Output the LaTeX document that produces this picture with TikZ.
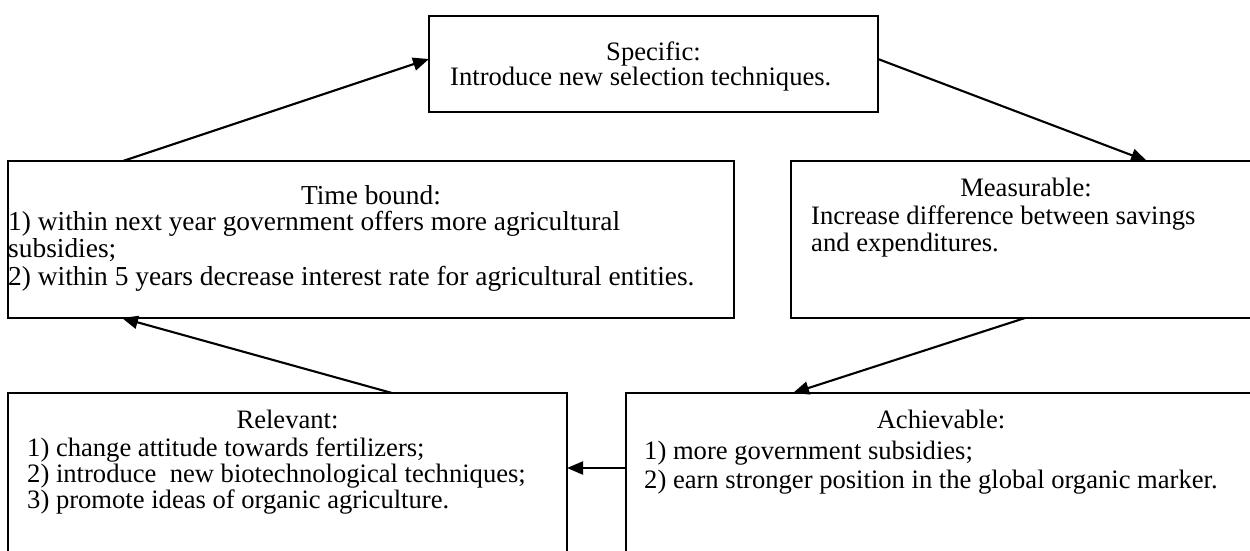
\documentclass[tikz,border=0pt]{standalone}
\usepackage{fontspec}
\setmainfont{Liberation Serif}
\usetikzlibrary{arrows.meta,calc}
\newcommand\fa{\fontsize{26.6pt}{30pt}\selectfont}
\newcommand\fb{\fontsize{27.4pt}{30pt}\selectfont}
\begin{document}
\begin{tikzpicture}[x=1pt,y=-1pt,
 box/.style={draw, line width=2.3pt, rectangle, inner sep=0pt, outer sep=0pt, anchor=north west},
 ttl/.style={anchor=base, inner sep=0pt, font=\fa},
 txt/.style={anchor=base west, inner sep=0pt, font=\fa},
 conn/.style={line width=2.1pt, -{Triangle[length=16pt,width=13pt]}}]
\useasboundingbox (0,0) rectangle (1250,550);
\clip (0,0) rectangle (1250,550);
\fill[white] (0,0) rectangle (1250,550);
% boxes
\node[box, minimum width=449pt, minimum height=96pt] (sp) at (429,16) {};
\node[box, minimum width=726pt, minimum height=157pt] (tb) at (8,161) {};
\node[box, minimum width=469pt, minimum height=157pt] (me) at (791,161) {};
\node[box, minimum width=559pt, minimum height=170pt] (re) at (8,393) {};
\node[box, minimum width=634pt, minimum height=170pt] (ac) at (626,393) {};
% texts
\node[ttl] (spT) at (653.5,60) {Specific:};
\node[txt] (sp1) at (450,85) {Introduce new selection techniques.};
\node[ttl, font=\fb] (tbT) at (371,204) {Time bound:};
\node[txt, font=\fb] (tb1) at (8,230) {1) within next year government offers more agricultural};
\node[txt, font=\fb] (tb2) at (8,257) {subsidies;};
\node[txt, font=\fb] (tb3) at (8,285) {2) within 5 years decrease interest rate for agricultural entities.};
\node[ttl] (meT) at (1026,196) {Measurable:};
\node[txt] (me1) at (811,224) {Increase difference between savings};
\node[txt] (me2) at (811,251) {and expenditures.};
\node[ttl] (reT) at (287.5,428) {Relevant:};
\node[txt] (re1) at (27,456) {1) change attitude towards fertilizers;};
\node[txt] (re2) at (27,482) {2) introduce\ \ new biotechnological techniques;};
\node[txt] (re3) at (27,508) {3) promote ideas of organic agriculture.};
\node[ttl] (acT) at (941,428) {Achievable:};
\node[txt] (ac1) at (644,459) {1) more government subsidies;};
\node[txt] (ac2) at (644,488) {2) earn stronger position in the global organic marker.};
% connectors
\draw[conn] ($(tb.north west)+(115,0)$) -- ($(sp.west)+(0,-5)$);
\draw[conn] ($(sp.east)+(0,-5)$) -- ($(me.north west)+(356,0)$);
\draw[conn] ($(me.south west)+(234,0)$) -- ($(ac.north west)+(167,0)$);
\draw[conn] ($(ac.north west)+(0,75)$) -- ($(re.north east)+(0,75)$);
\draw[conn] ($(re.north west)+(384,0)$) -- ($(tb.south west)+(114,0)$);
\end{tikzpicture}
\end{document}
